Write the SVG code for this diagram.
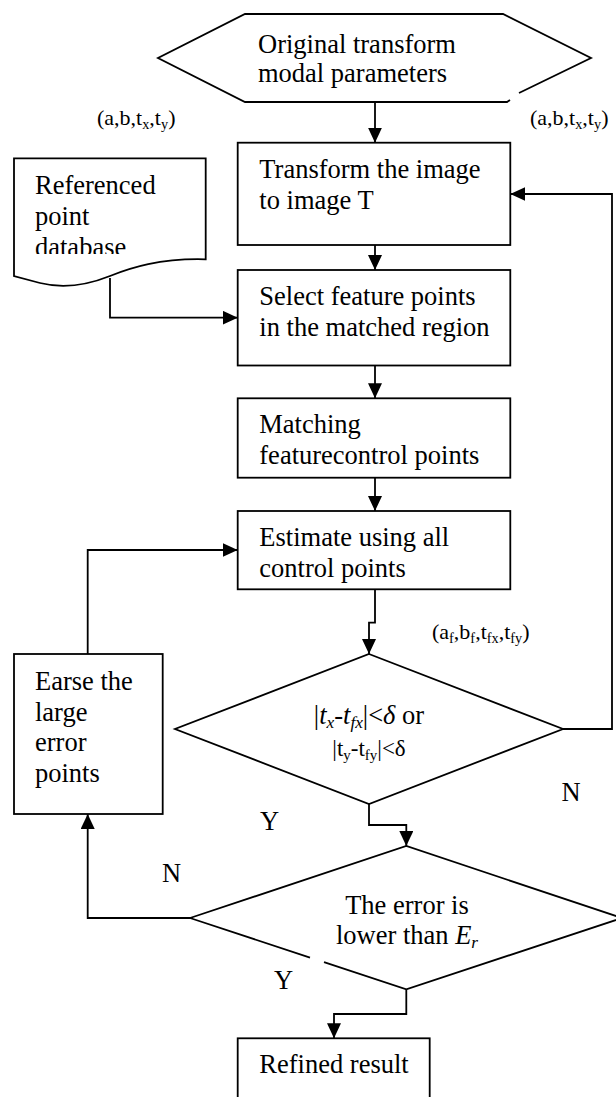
<svg xmlns="http://www.w3.org/2000/svg" width="616" height="1097" viewBox="0 0 616 1097">
  <style>
    .shape { fill: none; stroke: #000; stroke-width: 1.8; }
    .line { fill: none; stroke: #000; stroke-width: 1.8; }
    text { font-family: "Liberation Serif", "Times New Roman", serif; fill: #000; }
    .t { font-size: 26.5px; }
    .lbl { font-size: 22px; }
    .cond2 { font-size: 23px; }
    .sub { font-size: 0.65em; }
    .it { font-style: italic; }
  </style>
  <defs>
    <marker id="arrow" markerUnits="userSpaceOnUse" markerWidth="15" markerHeight="14" refX="15" refY="7" orient="auto">
      <path d="M0,0 L15,7 L0,14 Z" fill="#000"/>
    </marker>
    <clipPath id="docClip">
      <rect x="14" y="158" width="192" height="96"/>
    </clipPath>
  </defs>

  <rect x="0" y="0" width="616" height="1097" fill="#fff"/>

  <!-- start: transform parameters -->
  <g id="start">
    <path class="shape" d="M519,93 L591,58 L503,14 L245,14 L158,58 L245,102 L507,102 L510,100"/>
    <text class="t" x="258" y="52.5">Original transform</text>
    <text class="t" x="258" y="82">modal parameters</text>
  </g>

  <g id="param-left">
    <text class="lbl" x="97" y="125">(a,b,t<tspan class="sub" dy="4">x</tspan><tspan dy="-4">,t</tspan><tspan class="sub" dy="4">y</tspan><tspan dy="-4">)</tspan></text>
  </g>
  <g id="param-right">
    <text class="lbl" x="530" y="125">(a,b,t<tspan class="sub" dy="4">x</tspan><tspan dy="-4">,t</tspan><tspan class="sub" dy="4">y</tspan><tspan dy="-4">)</tspan></text>
  </g>

  <g id="transform">
    <rect class="shape" x="237.7" y="142.7" width="272.6" height="102.3"/>
    <text class="t" x="259.3" y="178">Transform the image</text>
    <text class="t" x="259.3" y="209">to image T</text>
  </g>

  <g id="database">
    <path class="shape" d="M14,158.3 H205.7 V259.3 C160,258 130,268 110,276 C85,286 60,288 40,283 L14,276 Z"/>
    <g clip-path="url(#docClip)">
      <text class="t" x="35" y="193.5">Referenced</text>
      <text class="t" x="35" y="224.5">point</text>
      <text class="t" x="35" y="255.5">database</text>
    </g>
  </g>

  <g id="select">
    <rect class="shape" x="237.7" y="270" width="272.6" height="95.5"/>
    <text class="t" x="259.3" y="305">Select feature points</text>
    <text class="t" x="259.3" y="336">in the matched region</text>
  </g>

  <g id="matching">
    <rect class="shape" x="237.7" y="398.3" width="272.6" height="79.4"/>
    <text class="t" x="259.3" y="433.3">Matching</text>
    <text class="t" x="259.3" y="464.3">featurecontrol points</text>
  </g>

  <g id="estimate">
    <rect class="shape" x="237.7" y="511" width="272.6" height="78.3"/>
    <text class="t" x="259.3" y="546">Estimate using all</text>
    <text class="t" x="259.3" y="577">control points</text>
  </g>

  <g id="param-fit">
    <text class="lbl" x="432" y="639">(a<tspan class="sub" dy="4">f</tspan><tspan dy="-4">,b</tspan><tspan class="sub" dy="4">f</tspan><tspan dy="-4">,t</tspan><tspan class="sub" dy="4">fx</tspan><tspan dy="-4">,t</tspan><tspan class="sub" dy="4">fy</tspan><tspan dy="-4">)</tspan></text>
  </g>

  <g id="check-shift">
    <path class="shape" d="M369,654 L563,729 L369,804 L175,729 Z"/>
    <text class="t" x="369" y="724" text-anchor="middle">|<tspan class="it">t</tspan><tspan class="sub it" dy="4">x</tspan><tspan dy="-4">-</tspan><tspan class="it">t</tspan><tspan class="sub it" dy="4">fx</tspan><tspan dy="-4">|&lt;</tspan><tspan class="it">δ</tspan> or</text>
    <text class="cond2" x="369" y="756" text-anchor="middle">|t<tspan class="sub" dy="4">y</tspan><tspan dy="-4">-t</tspan><tspan class="sub" dy="4">fy</tspan><tspan dy="-4">|&lt;δ</tspan></text>
  </g>

  <g id="erase">
    <rect class="shape" x="14" y="654" width="148.7" height="160"/>
    <text class="t" x="35" y="690">Earse the</text>
    <text class="t" x="35" y="720.6">large</text>
    <text class="t" x="35" y="751.2">error</text>
    <text class="t" x="35" y="781.8">points</text>
  </g>

  <g id="check-error">
    <path class="shape" d="M190,918 L406.3,846 L622,918 L406.3,989.3 L324,962.2 M310,957.6 L190,918"/>
    <text class="t" x="407" y="913.5" text-anchor="middle">The error is</text>
    <text class="t" x="407" y="944" text-anchor="middle">lower than <tspan class="it">E</tspan><tspan class="sub it" dy="4">r</tspan></text>
  </g>

  <g id="result">
    <rect class="shape" x="237.7" y="1038.3" width="192" height="80"/>
    <text class="t" x="259.3" y="1073">Refined result</text>
  </g>

  <!-- branch labels -->
  <g id="branch-labels">
    <text class="t" x="561.5" y="801">N</text>
    <text class="t" x="260" y="830">Y</text>
    <text class="t" x="162" y="882">N</text>
    <text class="t" x="274" y="989">Y</text>
  </g>

  <g id="connectors">
    <path class="line" d="M375,102.3 V142.7" marker-end="url(#arrow)"/>
    <path class="line" d="M375,245 V270" marker-end="url(#arrow)"/>
    <path class="line" d="M110,278 V317.7 H237.7" marker-end="url(#arrow)"/>
    <path class="line" d="M375,365.5 V398.3" marker-end="url(#arrow)"/>
    <path class="line" d="M375,477.7 V511" marker-end="url(#arrow)"/>
    <path class="line" d="M375,589.3 V622.7 H369 V654" marker-end="url(#arrow)"/>
    <path class="line" d="M563,729 H612 V194 H510.3" marker-end="url(#arrow)"/>
    <path class="line" d="M369,804 V825 H406.3 V846" marker-end="url(#arrow)"/>
    <path class="line" d="M190,918 H87.7 V814" marker-end="url(#arrow)"/>
    <path class="line" d="M87.7,654 V550 H237.7" marker-end="url(#arrow)"/>
    <path class="line" d="M406.3,989.3 V1014 H334 V1038.3" marker-end="url(#arrow)"/>
  </g>
</svg>
